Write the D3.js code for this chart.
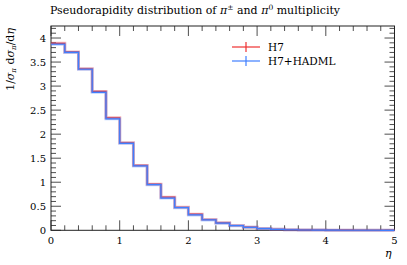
<!DOCTYPE html>
<html><head><meta charset="utf-8">
<script src="https://cdn.jsdelivr.net/npm/d3@7"></script>
<style>body{margin:0;background:#fff}svg{display:block}text{font-family:"DejaVu Serif","Liberation Serif",serif}</style>
</head><body><svg id="c" width="407" height="265"></svg>
<script>
const binEdges = [0,0.2,0.4,0.6,0.8,1.0,1.2,1.4,1.6,1.8,2.0,2.2,2.4,2.6,2.8,3.0,3.2,3.4,3.6,3.8,4.0,4.2,4.4,4.6,4.8,5.0];
const h7 = [3.89,3.71,3.36,2.89,2.34,1.82,1.35,0.96,0.69,0.48,0.335,0.225,0.155,0.10,0.065,0.037,0.022,0.012,0.007,0.004,0.003,0.002,0.001,0.001,0.0005];
const h7hadml = [3.87,3.70,3.35,2.87,2.32,1.81,1.34,0.95,0.67,0.47,0.32,0.215,0.148,0.096,0.062,0.035,0.020,0.011,0.006,0.004,0.002,0.0015,0.001,0.0008,0.0005];
const xTicks = [0,1,2,3,4,5];
const yTicks = [0,0.5,1,1.5,2,2.5,3,3.5,4];
const seriesNames = ["H7","H7+HADML"];
const colors = ["#ee3030","#3f7fff"];

const svg = d3.select("#c");
const L=51, R=394.5, T=26, B=230.3;
const x = d3.scaleLinear().domain([0,5]).range([L,R]);
const y = d3.scaleLinear().domain([0,4.25]).range([B,T]);

svg.append("rect").attr("x",L).attr("y",T).attr("width",R-L).attr("height",B-T)
  .attr("fill","none").attr("stroke","#222").attr("stroke-width",1);

const tk = svg.append("g").attr("stroke","#222").attr("stroke-width",0.8);
d3.range(0,5.001,0.2).forEach(v=>{
  const maj = Math.abs(v-Math.round(v))<1e-6;
  const len = maj?10:5;
  tk.append("line").attr("x1",x(v)).attr("x2",x(v)).attr("y1",B).attr("y2",B-len);
  tk.append("line").attr("x1",x(v)).attr("x2",x(v)).attr("y1",T).attr("y2",T+len);
});
d3.range(0,4.2501,0.1).forEach(v=>{
  const maj = Math.abs(v*2-Math.round(v*2))<1e-6;
  const len = maj?10:5;
  tk.append("line").attr("y1",y(v)).attr("y2",y(v)).attr("x1",L).attr("x2",L+len);
  tk.append("line").attr("y1",y(v)).attr("y2",y(v)).attr("x1",R).attr("x2",R-len);
});

svg.append("g").selectAll("text").data(xTicks).join("text")
  .attr("x",d=>x(d)).attr("y",B+14).attr("text-anchor","middle")
  .attr("font-size",10).text(d=>d);
svg.append("g").selectAll("text").data(yTicks).join("text")
  .attr("x",L-5).attr("y",d=>y(d)+3.5).attr("text-anchor","end")
  .attr("font-size",10).text(d=>d);

function stepPath(vals){
  let p = "";
  vals.forEach((v,i)=>{
    p += (i===0?"M":"L")+x(binEdges[i])+","+y(v)+"L"+x(binEdges[i+1])+","+y(v);
  });
  return p;
}
[h7,h7hadml].forEach((vals,k)=>{
  svg.append("path").attr("d",stepPath(vals)).attr("fill","none")
    .attr("stroke",colors[k]).attr("stroke-opacity",0.35).attr("stroke-width",3);
  svg.append("path").attr("d",stepPath(vals)).attr("fill","none")
    .attr("stroke",colors[k]).attr("stroke-width",1.2);
});

seriesNames.forEach((n,k)=>{
  const ly = 47 + k*14;
  svg.append("line").attr("x1",232).attr("x2",260).attr("y1",ly).attr("y2",ly).attr("stroke",colors[k]).attr("stroke-width",1.2);
  svg.append("line").attr("x1",246).attr("x2",246).attr("y1",ly-5).attr("y2",ly+5).attr("stroke",colors[k]).attr("stroke-width",1.2);
  svg.append("text").attr("x",268).attr("y",ly+4).attr("font-size",10.5).text(n);
});

const t = svg.append("text").attr("x",L-1).attr("y",14).attr("font-size",11);
t.append("tspan").text("Pseudorapidity distribution of ");
t.append("tspan").attr("font-style","italic").text("π");
t.append("tspan").attr("dy",-4).attr("font-size",7.5).text("±");
t.append("tspan").attr("dy",4).text(" and ");
t.append("tspan").attr("font-style","italic").text("π");
t.append("tspan").attr("dy",-4).attr("font-size",7.5).text("0");
t.append("tspan").attr("dy",4).text(" multiplicity");

const yl = svg.append("text").attr("transform","translate(14,28) rotate(-90)")
  .attr("text-anchor","end").attr("font-size",11);
yl.append("tspan").text("1/");
yl.append("tspan").attr("font-style","italic").text("σ");
yl.append("tspan").attr("font-style","italic").attr("font-size",7).attr("dy",2).text("π");
yl.append("tspan").attr("dy",-2).text(" d");
yl.append("tspan").attr("font-style","italic").text("σ");
yl.append("tspan").attr("font-style","italic").attr("font-size",7).attr("dy",2).text("π");
yl.append("tspan").attr("dy",-2).text("/d");
yl.append("tspan").attr("font-style","italic").text("η");

svg.append("text").attr("x",R-3).attr("y",B+27).attr("text-anchor","end")
  .attr("font-size",11).attr("font-style","italic").text("η");
</script></body></html>
